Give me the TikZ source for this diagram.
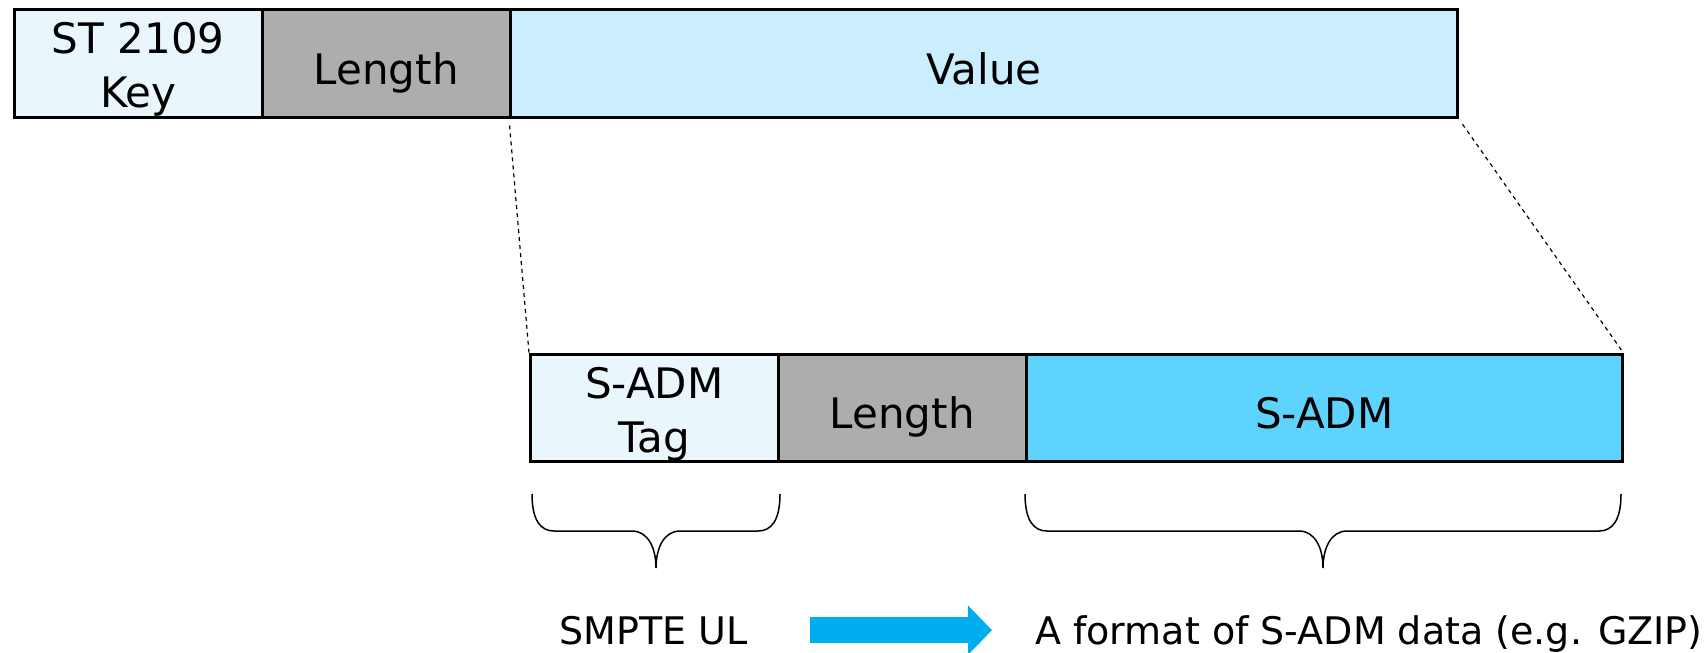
\documentclass[tikz,border=0pt]{standalone}
\usepackage{fontspec}
\setmainfont{DejaVu Sans}
\usetikzlibrary{calc,arrows.meta}

\definecolor{keyfill}{RGB}{233,247,253}
\definecolor{lenfill}{RGB}{173,173,173}
\definecolor{valfill}{RGB}{202,238,253}
\definecolor{admfill}{RGB}{93,211,253}
\definecolor{arrowblue}{RGB}{0,174,239}

% curly brace under a field, from x=#1 to x=#2, tip in the middle
\newcommand\fieldbrace[2]{%
  \pgfmathsetmacro\bmid{(#1+#2)/2}%
  \draw[brace] (#1,494) .. controls (#1,521) and (#1+9,531) .. (#1+22,531)
    -- (\bmid-24,531) .. controls (\bmid-8,531) and (\bmid,548) .. (\bmid,568)
    .. controls (\bmid,548) and (\bmid+8,531) .. (\bmid+24,531)
    -- (#2-22,531) .. controls (#2-9,531) and (#2,521) .. (#2,494);%
}

\begin{document}
\begin{tikzpicture}[x=1pt,y=-1pt,
  field/.style={draw=black, line width=2.5pt, inner sep=0pt, anchor=north west},
  fieldtext/.style={font=\fontsize{42}{50}\selectfont, anchor=base, inner sep=0pt},
  labeltext/.style={font=\fontsize{38}{46}\selectfont, anchor=base west, inner sep=0pt},
  zoomline/.style={dash pattern=on 4pt off 4pt, line width=1.2pt},
  brace/.style={line width=1.5pt},
]
\useasboundingbox (0,0) rectangle (1708,653);

% outer KLV packet
\node[field, fill=keyfill, minimum width=248pt, minimum height=108pt] (key) at (13,8) {};
\node[field, fill=lenfill, minimum width=248pt, minimum height=108pt] (len) at (261,8) {};
\node[field, fill=valfill, minimum width=947pt, minimum height=108pt] (val) at (509,8) {};

\node[fieldtext] (keyA) at ($(key.north)+(0,45)$) {ST 2109};
\node[fieldtext] (keyB) at ($(key.north)+(0,99)$) {Key};
\node[fieldtext] (lenT) at ($(len.center)+(0,21)$) {Length};
\node[fieldtext] (valT) at ($(val.center)+(0,21)$) {Value};

% inner S-ADM packet
\node[field, fill=keyfill, minimum width=248pt, minimum height=107pt] (tag) at (529,353) {};
\node[field, fill=lenfill, minimum width=248pt, minimum height=107pt] (len2) at (777,353) {};
\node[field, fill=admfill, minimum width=596pt, minimum height=107pt] (sadm) at (1025,353) {};

\node[fieldtext] (tagA) at ($(tag.north)+(0,45)$) {S-ADM};
\node[fieldtext] (tagB) at ($(tag.north)+(0,99)$) {Tag};
\node[fieldtext] (len2T) at ($(len2.center)+(0,21)$) {Length};
\node[fieldtext] (sadmT) at ($(sadm.center)+(0,21)$) {S-ADM};

% expansion of the value field
\draw[zoomline, shorten <=7pt] (val.south west) -- (tag.north west);
\draw[zoomline, shorten <=7pt] (val.south east) -- (sadm.north east);

% braces
\fieldbrace{532}{780}
\fieldbrace{1025}{1621}

% labels
\node[labeltext] (smpte) at (559,644) {SMPTE UL};
\node[labeltext] (fmt) at (1035,644) {A format of S-ADM data (e.g. GZIP)};

\draw[arrowblue, line width=26pt, -{Triangle[length=24pt, width=48pt]},
      shorten <=62pt, shorten >=43pt] (smpte.east) -- (smpte.east -| fmt.west);
\end{tikzpicture}
\end{document}
